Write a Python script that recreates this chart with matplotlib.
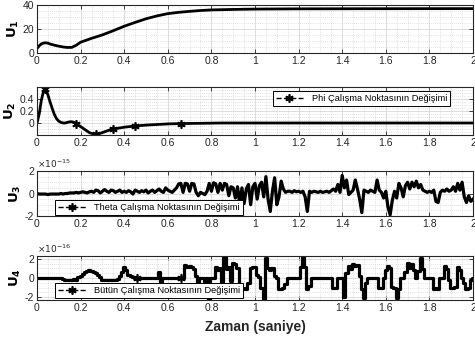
import numpy as np
import matplotlib
matplotlib.use("Agg")
import matplotlib.pyplot as plt
from matplotlib.ticker import MultipleLocator
from matplotlib.lines import Line2D

plt.rcParams['font.family'] = ['Liberation Sans', 'DejaVu Sans']

# ---- data ----
t1 = [0, 0.01, 0.02, 0.03, 0.04, 0.05, 0.06, 0.08, 0.10, 0.12, 0.14, 0.16, 0.18,
      0.20, 0.25, 0.30, 0.35, 0.40, 0.45, 0.50, 0.55, 0.60, 0.65, 0.70, 0.75,
      0.80, 0.90, 1.0, 1.2, 1.5, 2.0]
u1 = [3.7, 6.0, 7.6, 8.3, 8.5, 8.2, 7.5, 6.5, 5.7, 5.0, 4.6, 4.7, 6.5,
      9.0, 12.2, 15.1, 18.6, 22.3, 25.5, 28.5, 30.9, 32.8, 33.9, 34.7, 35.4,
      35.9, 36.3, 36.6, 36.8, 36.9, 37.0]

t2 = [0, 0.01, 0.02, 0.03, 0.035, 0.04, 0.05, 0.06, 0.07, 0.08, 0.09, 0.10,
      0.11, 0.12, 0.13, 0.14, 0.15, 0.16, 0.17, 0.18, 0.20, 0.22, 0.24, 0.26,
      0.27, 0.28, 0.30, 0.33, 0.35, 0.40, 0.45, 0.50, 0.55, 0.60, 0.66, 0.75,
      0.85, 1.0, 2.0]
u2 = [0, 0.15, 0.38, 0.53, 0.57, 0.56, 0.47, 0.35, 0.24, 0.14, 0.07, 0.03,
      0.01, 0.0, 0.0, 0.01, 0.02, 0.02, 0.01, -0.01, -0.06, -0.11, -0.16, -0.185,
      -0.19, -0.185, -0.16, -0.12, -0.10, -0.07, -0.05, -0.035, -0.025, -0.015,
      -0.01, -0.005, 0, 0, 0]
t2_markers = [0.035, 0.18, 0.27, 0.35, 0.45, 0.66]
u2_markers = [0.57, -0.01, -0.19, -0.10, -0.05, -0.01]

# U3 in units of 1e-15, sampled every 0.01 s from 0 to 2
u3 = [0, -0.05, -0.05, -0.05, -0.05, -0.1, -0.05, -0.05, -0.05, -0.05, -0.05, 0, -0.05, 0, 0, 0.05,
      0.05, 0.05, 0.1, 0.05, 0.1, 0.15, 0.1, 0.05, 0.15, 0.2, 0.1, 0.3, 0.25, 0.05, 0.2, 0.35, 0.2, 0.1, 0.3, 0.25, 0.1, 0.2, 0.3, 0.1, 0.2,
      0.1, 0.25, 0.15, -0.05, 0.3, 0.2, 0.1, 0.25, 0.15, 0.3, 0.05, 0.2, 0.3, 0.1, 0.25, 0.4, 0.2, 0.1, 0.5, 0.3,
      0.2, 0.1, 0.3, 0.5, 0.85, 0.9, 0.1, 0.9, 0.85, 0.2,
      0.9, 0.85, 0.1, -0.2, 0.1, 0.0, -0.1, 0.2, 0.9, 0.2,
      0.95, 0.85, 0.1, 0.9, 0.3, 0.9, 0.8, -0.2, 0.6, 0.5,
      -0.4, 0.6, -1.0, 0.5, -0.9, 0.4, 0.8, -1.0, 0.6, 0.9,
      -0.5, 0.7, 1.0, -0.3, 1.5, -0.5, -1.6, 0.2, 1.4, -1.0,
      -0.3, 1.1, 0.4, 0.1, 0.2, 0.2, 0.1, 0.25, 0.15, 0.2,
      0.1, 0.2, -0.3, -1.6, 0.2, 0.1, 0.2, 0.15, 0.1, 0.2,
      0.1, 0.15, 0.2, 0.1, 0.25, 0.4, 0.2, 0.8, 0.1, 1.6,
      0.5, 1.2, -0.1, 0.1, 0.3, 1.2, 0.4, -0.5, -1.7, 0.3,
      0.2, 0.1, 0.3, 0.2, 0.1, 1.2, 0.3, 0.1, -0.4, 0.2,
      -1.2, -1.9, -0.6, 0.2, -0.4, 0.9, 0.5, -0.3, 0.7, 1.0,
      0.4, 1.0, 0.6, 1.1, 0.5, 0.8, 0.3, 0.2, 0.1, 0.2,
      0.1, 0.3, -0.7, -0.8, 0.1, 0.3, 0.2, 0.4, 0.2, 0.3,
      0.6, 0.2, 0.9, 0.3, 1.0, -0.3, -0.8, -0.2, -0.7, -0.5]

# U4 in units of 1e-16, sampled every 0.01 s from 0 to 2
u4 = [0, 0, 0, 0, 0, 0, 0, 0, 0, 0, 0,
      0, -0.1, -0.2, -0.2, -0.2, -0.2, -0.1, -0.2, 0.1, 0.2,
      0.4, 0.6, 0.7, 0.8, 0.75, 0.6, 0.5, 0.3, 0.1, -0.2,
      -0.2, -0.25, -0.2, -0.2, -0.25, -0.2, -0.1, 0.2, 0.6, 1.2,
      0.8, 0.3, 0.2, 0.1, 0, 0, 0, 0, 0, 0,
      0, 0, 0, 0, 0, 0.6, -0.4, 0, 0, 0,
      0, 0, 0, 0, 0, 0, 0, 1.4, 1.2, 1.3,
      1.1, 0.9, 0.2, -0.7, 0, 0, -0.7, 0, -2.2, 0,
      0, 1.1, 0.8, 1.0, -0.5, 2.2, 0.9, 1.1, -0.3, 1.6,
      1.5, 1.0, -0.6, -1.1, -1.0, -1.1, -0.5, 1.0, 1.2, 1.1,
      0.3, 0.1, -1.0, -2.2, 2.1, 1.0, 0.8, 1.0, 0.2, 0,
      -1.1, -1.1, -1.0, -0.6, 0, 0, 0, 0, 0, 0,
      1.2, 2.3, 1.2, -1.1, -0.8, 0, 0, 0, 0, 0,
      0, 0, 0, 0, 0, -1.0, -1.0, 0, 0, 0,
      -2.0, 0.5, 1.3, 0.9, 1.5, 1.3, 1.4, 0.2, -1.2, -2.1,
      -0.5, 0, 0, 0, 0, 0, -1.0, -1.0, 0, 0.8,
      1.3, 1.0, -0.9, -1.0, -2.1, -1.2, 0, 0, 0.6, 1.6,
      1.0, 1.5, 0.8, 0, 0.7, 2.1, 0.9, 0, 0, 0,
      0, -1.1, -1.0, -1.1, 0, 0, 1.3, 0.9, -0.2, -1.0,
      -1.0, -0.9, 1.2, 0.8, 0, -0.5, -1.1, -1.0, -0.2, 0]
t34 = np.linspace(0, 2, len(u3))
t4_markers = [0.46, 0.66]
u4_markers = [0, 0]

legend_labels = ['Phi Çalışma Noktasının Değişimi',
                 'Theta Çalışma Noktasının Değişimi',
                 'Bütün Çalışma Noktasının Değişimi']
ylabels = [r'$\mathbf{U_1}$', r'$\mathbf{U_2}$', r'$\mathbf{U_3}$', r'$\mathbf{U_4}$']
xticks = [0, 0.2, 0.4, 0.6, 0.8, 1, 1.2, 1.4, 1.6, 1.8, 2]
xticklabels = ['0', '0.2', '0.4', '0.6', '0.8', '1', '1.2', '1.4', '1.6', '1.8', '2']

# ---- figure ----
fig = plt.figure(figsize=(4.75, 3.47), dpi=100)
W, H = 475, 347
boxes = [(5, 53), (87, 135), (171, 216), (256, 300)]
axes = []
for top, bot in boxes:
    ax = fig.add_axes([37 / W, 1 - bot / H, 436 / W, (bot - top) / H])
    axes.append(ax)

AST = (6, 2, 0)  # asterisk marker
lw = 2.0
axes[0].plot(t1, u1, color='black', lw=lw)
axes[1].plot(t2, u2, color='black', lw=lw)
axes[1].plot(t2_markers, u2_markers, ls='none', marker=AST, color='black',
             ms=6, mew=1.2)
axes[2].plot(t34, u3, color='black', lw=2.3)
axes[3].plot(t34, u4, color='black', lw=2.3, drawstyle='steps-mid')
axes[3].plot(t4_markers, u4_markers, ls='none', marker=AST, color='black',
             ms=6, mew=1.2)

ylims = [(0, 40), (-0.2, 0.6), (-2, 2), (-2.3, 2.3)]
yticks = [[0, 20, 40], [0, 0.2, 0.4], [-2, 0, 2], [-2, 0, 2]]
yticklabels = [['0', '20', '40'], ['0', '0.2', '0.4'], ['-2', '0', '2'], ['-2', '0', '2']]
yminor = [5, 0.05, 0.5, 0.5]

for i, ax in enumerate(axes):
    ax.set_xlim(0, 2)
    ax.set_ylim(*ylims[i])
    ax.set_xticks(xticks)
    ax.set_xticklabels(xticklabels)
    ax.set_yticks(yticks[i])
    ax.set_yticklabels(yticklabels[i])
    ax.xaxis.set_minor_locator(MultipleLocator(0.05))
    ax.yaxis.set_minor_locator(MultipleLocator(yminor[i]))
    ax.grid(True, which='major', color='#d8d8d8', lw=0.6)
    ax.grid(True, which='minor', color='#c8c8c8', lw=0.5, ls=(0, (1, 2)))
    ax.set_axisbelow(True)
    ax.tick_params(which='major', direction='in', length=3, width=0.6,
                   top=True, right=True, labelsize=7.5, pad=2, colors='#262626')
    ax.tick_params(which='minor', length=0)
    for s in ax.spines.values():
        s.set_linewidth(0.8)
        s.set_color('#262626')
    ax.set_ylabel(ylabels[i], fontsize=9.5, labelpad=1)

# legends
h = Line2D([], [], color='black', ls='--', marker=AST, ms=6, mew=1.2, lw=1.0)
leg_kw = dict(fontsize=6.7, frameon=True, fancybox=False, edgecolor='black',
              framealpha=1, handlelength=3.0, borderpad=0.3, handletextpad=0.9,
              numpoints=1, borderaxespad=0)
l2 = axes[1].legend([h], [legend_labels[0]], loc='upper right',
                    bbox_to_anchor=((450 - 37) / 436, (135 - 91) / 48), **leg_kw)
l3 = axes[2].legend([h], [legend_labels[1]], loc='lower left',
                    bbox_to_anchor=(18 / 436, 1 / 45), **leg_kw)
l4 = axes[3].legend([h], [legend_labels[2]], loc='lower left',
                    bbox_to_anchor=(18 / 436, 2 / 44), **leg_kw)
for l in (l2, l3, l4):
    l.get_frame().set_linewidth(0.7)

# exponent labels
axes[2].text(0.0, 1.02, r'$\times10^{-15}$', transform=axes[2].transAxes,
             fontsize=6.5, ha='left', va='bottom', color='#262626')
axes[3].text(0.0, 1.02, r'$\times10^{-16}$', transform=axes[3].transAxes,
             fontsize=6.5, ha='left', va='bottom', color='#262626')

fig.text((37 + 473) / 2 / W, 1 - 327 / H, 'Zaman (saniye)', ha='center',
         va='center', fontsize=10, fontweight='bold', color='#262626')

fig.savefig('out.png', dpi=100)
